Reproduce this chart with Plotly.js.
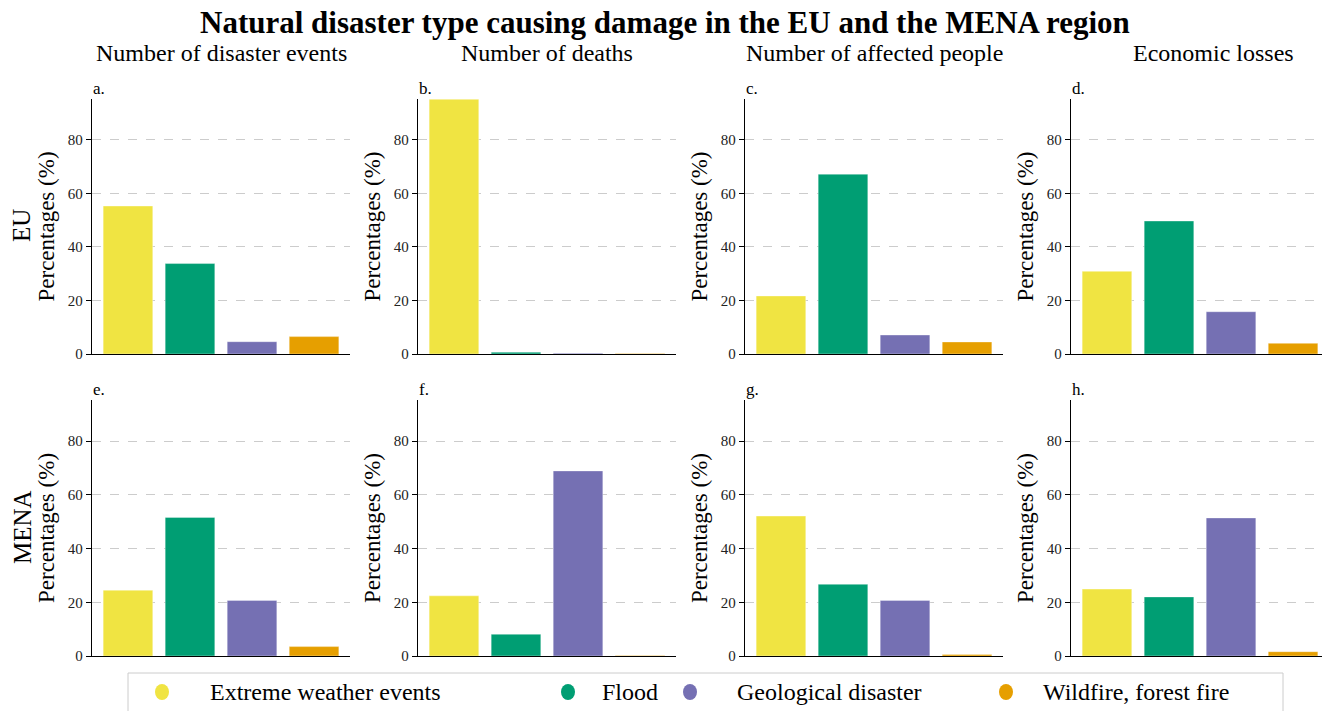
<!DOCTYPE html>
<html>
<head>
<meta charset="utf-8">
<script src="https://cdn.plot.ly/plotly-3.0.1.min.js"></script>
<style>html,body{margin:0;padding:0;background:#fff;}#chart{width:1322px;height:711px;}</style>
</head>
<body>
<div id="chart"></div>
<script>
// ---- data ----
const categories = ["Extreme weather events", "Flood", "Geological disaster", "Wildfire, forest fire"];
const columnTitles = ["Number of disaster events", "Number of deaths", "Number of affected people", "Economic losses"];
const rowLabels = ["EU", "MENA"];
const panelLetters = ["a.", "b.", "c.", "d.", "e.", "f.", "g.", "h."];
const yTicks = [0, 20, 40, 60, 80];

const euEvents   = [55.3, 33.8, 4.6, 6.5];
const euDeaths   = [95.2, 0.7, 0.3, 0.15];
const euAffected = [21.7, 67.2, 7.1, 4.5];
const euLosses   = [30.9, 49.7, 15.8, 4.0];
const menaEvents   = [24.5, 51.6, 20.7, 3.5];
const menaDeaths   = [22.4, 8.1, 68.9, 0.2];
const menaAffected = [52.1, 26.7, 20.7, 0.6];
const menaLosses   = [24.9, 22.0, 51.4, 1.6];

const panels = [euEvents, euDeaths, euAffected, euLosses, menaEvents, menaDeaths, menaAffected, menaLosses];

// ---- styles ----
const colors = ["#F0E442", "#009E73", "#7570B3", "#E69F00"];
const W = 1322, H = 711;
const FONT = "'Liberation Serif', 'Times New Roman', Times, serif";
const colPx = [[92, 350], [418, 676], [745, 1003], [1071, 1322]];
const rowPx = [[99, 354], [400, 656]];
const xRanges = [[-0.58, 3.58], [-0.58, 3.58], [-0.58, 3.58], [-0.58, 3.467]];
const yMax = 95.3;

const data = [];
const layout = {
  width: W, height: H,
  margin: {l: 0, r: 0, t: 0, b: 0},
  paper_bgcolor: "#fff", plot_bgcolor: "#fff",
  font: {family: FONT, color: "#000"},
  showlegend: false,
  bargap: 0.2,
  annotations: [], shapes: []
};

panels.forEach((vals, i) => {
  const r = Math.floor(i / 4), c = i % 4;
  const n = i + 1;
  const xa = n === 1 ? "x" : "x" + n;
  const ya = n === 1 ? "y" : "y" + n;
  data.push({
    type: "bar", x: categories, y: vals, xaxis: xa, yaxis: ya,
    marker: {color: colors, line: {color: "rgba(255,255,255,0.6)", width: 0.6}},
    width: 0.8, hoverinfo: "x+y"
  });
  const xKey = n === 1 ? "xaxis" : "xaxis" + n;
  const yKey = n === 1 ? "yaxis" : "yaxis" + n;
  layout[xKey] = {
    domain: [colPx[c][0] / W, colPx[c][1] / W],
    anchor: ya, type: "category", range: xRanges[c],
    showline: true, linecolor: "#000", linewidth: 1.2,
    showticklabels: false, ticks: "", showgrid: false, zeroline: false, fixedrange: true
  };
  layout[yKey] = {
    domain: [1 - rowPx[r][1] / H, 1 - rowPx[r][0] / H],
    anchor: xa, range: [0, yMax], tickvals: yTicks,
    showline: true, linecolor: "#000", linewidth: 1.2,
    ticks: "outside", ticklen: 5, tickwidth: 1, tickcolor: "#000",
    tickfont: {family: FONT, size: 15, color: "#222"},
    showgrid: true, gridcolor: "#cccccc", griddash: "dash", gridwidth: 1,
    zeroline: false, fixedrange: true,
    title: {text: "Percentages (%)", font: {family: FONT, size: 23, color: "#000"}, standoff: 6}
  };
  layout.annotations.push({
    xref: "paper", yref: "paper", x: (colPx[c][0] - 1) / W, y: 1 - (rowPx[r][0] + 1) / H,
    xanchor: "left", yanchor: "bottom", text: panelLetters[i], showarrow: false,
    font: {family: FONT, size: 17, color: "#000"}
  });
});

// column titles
const colCenters = [221, 547, 874, 1213];
columnTitles.forEach((t, c) => {
  layout.annotations.push({
    xref: "paper", yref: "paper", x: colCenters[c] / W, y: 1 - 53 / H,
    xanchor: "center", yanchor: "middle", text: t, showarrow: false,
    font: {family: FONT, size: 24, color: "#000"}
  });
});
// row labels
const rowCenters = [226, 527];
rowLabels.forEach((t, r) => {
  layout.annotations.push({
    xref: "paper", yref: "paper", x: 22 / W, y: 1 - rowCenters[r] / H,
    xanchor: "center", yanchor: "middle", text: t, textangle: -90, showarrow: false,
    font: {family: FONT, size: 25, color: "#000"}
  });
});
// main title
layout.annotations.push({
  xref: "paper", yref: "paper", x: 665 / W, y: 1 - 22 / H,
  xanchor: "center", yanchor: "middle", text: "<b>Natural disaster type causing damage in the EU and the MENA region</b>",
  showarrow: false, font: {family: FONT, size: 31, color: "#000"}
});

// legend (drawn box with circle markers)
layout.shapes.push({
  type: "rect", xref: "paper", yref: "paper",
  x0: 128 / W, x1: 1283 / W, y0: 1 - 716 / H, y1: 1 - 673 / H,
  line: {color: "#cccccc", width: 1}, fillcolor: "rgba(255,255,255,0.8)", layer: "above"
});
const legCircleX = [162, 568, 690, 1006];
const legTextX = [208, 600, 735, 1041];
const legY = 692;
categories.forEach((name, k) => {
  layout.shapes.push({
    type: "circle", xref: "paper", yref: "paper",
    x0: (legCircleX[k] - 7) / W, x1: (legCircleX[k] + 7) / W,
    y0: 1 - (legY + 8) / H, y1: 1 - (legY - 8) / H,
    fillcolor: colors[k], line: {width: 0}, layer: "above"
  });
  layout.annotations.push({
    xref: "paper", yref: "paper", x: legTextX[k] / W, y: 1 - legY / H,
    xanchor: "left", yanchor: "middle", text: name, showarrow: false,
    font: {family: FONT, size: 24, color: "#000"}
  });
});

Plotly.newPlot("chart", data, layout, {displayModeBar: false, staticPlot: true});
</script>
</body>
</html>
